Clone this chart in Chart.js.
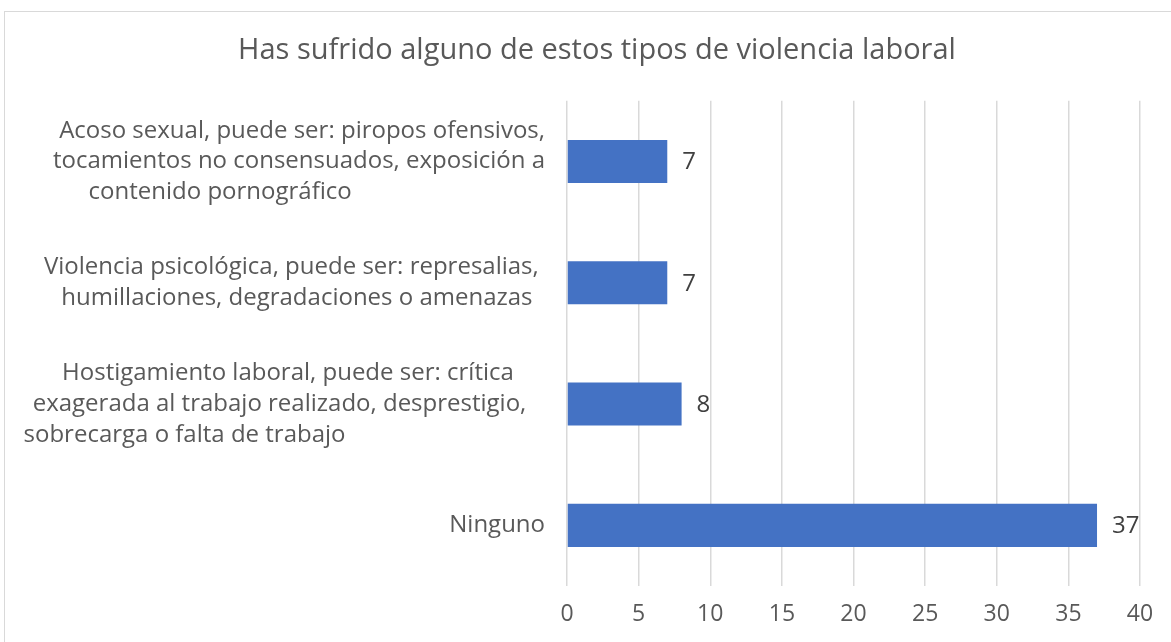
<!DOCTYPE html>
<html>
<head>
<meta charset="utf-8">
<script src="https://cdn.jsdelivr.net/npm/chart.js@4/dist/chart.umd.min.js"></script>
<style>
html,body{margin:0;padding:0;background:#fff;overflow:hidden;width:1171px;height:642px;}
#marco{position:absolute;left:4px;top:11px;border:1px solid #d9d9d9;width:1184px;height:640px;}
canvas{display:block;}
</style>
</head>
<body>
<div id="marco"><canvas id="grafica" width="1184" height="630"></canvas></div>
<script>
// datos
var categorias = [
  ["Acoso sexual, puede ser: piropos ofensivos,", "tocamientos no consensuados, exposición a", "contenido pornográfico"],
  ["Violencia psicológica, puede ser: represalias,", "humillaciones, degradaciones o amenazas"],
  ["Hostigamiento laboral, puede ser: crítica", "exagerada al trabajo realizado, desprestigio,", "sobrecarga o falta de trabajo"],
  ["Ninguno"]
];
var valores = [7, 7, 8, 37];
var titulo = "Has sufrido alguno de estos tipos de violencia laboral";

// espacios al final de cada linea (para imitar la alineacion del original)
var relleno = [[0, 0, 31], [1, 2], [5, 3, 32], [0]];

var etiquetasValor = {
  id: "etiquetasValor",
  afterDatasetsDraw: function(chart) {
    var ctx = chart.ctx;
    var meta = chart.getDatasetMeta(0);
    ctx.save();
    ctx.font = "24px 'Open Sans'";
    ctx.fillStyle = "#404040";
    ctx.textAlign = "left";
    ctx.textBaseline = "middle";
    meta.data.forEach(function(bar, i) {
      ctx.fillText(valores[i], bar.x + 15, bar.y + 1);
    });
    ctx.restore();
  }
};

var ctx = document.getElementById("grafica").getContext("2d");
var grafica = new Chart(ctx, {
  type: "bar",
  data: {
    labels: categorias,
    datasets: [{
      data: valores,
      backgroundColor: "#4472C4",
      borderWidth: 0,
      barPercentage: 0.355,
      categoryPercentage: 1
    }]
  },
  plugins: [etiquetasValor],
  options: {
    indexAxis: "y",
    responsive: false,
    animation: false,
    layout: { padding: 0 },
    plugins: {
      legend: { display: false },
      tooltip: { enabled: false },
      title: {
        display: true,
        text: titulo,
        color: "#595959",
        font: { family: "'Open Sans'", size: 29, weight: "normal" },
        padding: { top: 21, bottom: 33 }
      }
    },
    scales: {
      x: {
        min: 0,
        max: 40,
        ticks: {
          stepSize: 5,
          color: "#595959",
          font: { family: "'Open Sans'", size: 23 },
          padding: 15
        },
        grid: { color: "#d9d9d9", lineWidth: 1.5, drawTicks: false },
        border: { display: false },
        afterFit: function(scale) {
          scale.height = 56;
          scale.paddingLeft = 0;
          scale.paddingRight = 49;
        }
      },
      y: {
        ticks: {
          color: "#595959",
          font: { family: "'Open Sans'", size: 24, lineHeight: 1.28 },
          padding: 22,
          callback: function(v, i) {
            var lineas = categorias[i];
            return lineas.map(function(t, j) {
              return t + " ".repeat(relleno[i][j] || 0);
            });
          }
        },
        grid: { display: false, drawTicks: false },
        border: { display: false },
        afterFit: function(scale) {
          scale.width = 562;
          scale.paddingTop = 0;
          scale.paddingBottom = 0;
        }
      }
    }
  }
});
</script>
</body>
</html>
